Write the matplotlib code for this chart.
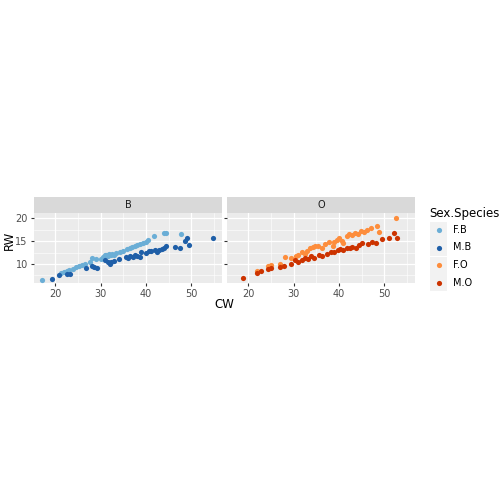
import matplotlib
matplotlib.use("Agg")
import matplotlib.pyplot as plt

FB_cw = [17.1,21.3,22.0,22.6,23.0,24.0,24.6,25.2,25.8,26.5,27.6,28.0,29.0,30.0,30.6,31.0,31.3,31.6,31.9,32.2,32.5,33.0,33.4,34.2,35.0,35.8,36.5,37.0,37.5,38.0,38.6,39.3,40.0,40.5,41.8,44.0,44.5,47.8]
FB_rw = [6.5,7.9,8.2,8.4,8.6,8.9,9.3,9.6,9.8,9.9,10.4,11.3,11.0,11.1,11.6,11.9,12.0,11.8,12.1,11.9,12.2,12.0,12.4,12.6,12.9,13.2,13.5,13.7,13.9,14.1,14.3,14.6,14.9,15.2,16.1,16.9,16.7,16.5]
MB_cw = [19.2,20.8,22.6,23.2,26.8,28.0,28.6,29.2,31.0,31.6,32.0,32.4,33.0,34.0,35.5,36.0,36.6,37.1,37.5,38.0,38.8,39.0,40.0,40.6,41.2,42.0,42.5,43.0,43.6,44.0,44.5,46.5,47.5,48.6,49.0,49.6,54.8]
MB_rw = [6.7,7.6,7.7,7.8,9.0,9.5,9.3,9.0,10.8,10.5,10.0,10.4,10.6,11.0,11.6,11.2,11.8,11.5,12.0,11.7,11.5,12.6,12.5,12.8,12.9,13.0,12.7,13.1,13.3,13.5,13.9,13.7,13.5,15.0,15.8,14.2,15.7]
FO_cw = [21.9,24.3,25.0,26.9,28.1,29.5,30.5,31.0,31.8,32.5,33.0,33.6,34.2,34.8,35.4,36.2,37.0,37.8,38.6,39.0,39.6,40.1,40.6,41.0,41.7,42.3,43.0,43.6,44.2,44.8,45.5,46.2,47.0,48.4,48.8,52.5]
FO_rw = [8.4,9.6,9.8,10.0,11.6,11.3,11.8,12.0,12.6,12.2,12.9,13.4,13.7,14.0,13.9,13.6,14.4,14.9,14.0,14.8,15.3,15.7,15.0,14.6,16.2,16.6,16.3,16.9,16.5,17.2,17.1,17.4,17.8,18.4,17.0,20.2]
MO_cw = [18.8,22.0,22.8,24.4,25.1,26.9,27.8,29.5,30.3,31.0,31.8,32.5,33.2,33.8,34.5,35.5,36.3,37.4,38.2,39.0,39.7,40.3,41.0,41.7,42.4,43.0,43.7,44.4,45.2,46.5,47.3,48.3,49.6,51.0,52.1,52.8]
MO_rw = [6.9,8.1,8.5,8.8,9.0,9.3,9.6,10.0,10.8,10.5,10.8,11.2,11.0,11.7,11.4,12.0,11.7,12.2,12.7,12.6,13.0,13.3,13.0,13.6,13.4,13.8,13.5,14.2,14.5,14.4,14.9,14.6,15.4,15.6,16.7,15.7]

cols = {'F.B':'#6BAED6','M.B':'#1F5FA8','F.O':'#FD8D3C','M.O':'#CC3300'}

fig = plt.figure(figsize=(5.04,5.04), dpi=100)
W,H = 504,504
panels = [('B',[('F.B',FB_cw,FB_rw),('M.B',MB_cw,MB_rw)],34),('O',[('F.O',FO_cw,FO_rw),('M.O',MO_cw,MO_rw)],227)]
pw = 188
for name, groups, x0 in panels:
    ax = fig.add_axes([x0/W, 1-283/H, pw/W, 70/H])
    ax.set_facecolor('#EBEBEB')
    for lab, x, y in groups:
        ax.scatter(x, y, s=14, color=cols[lab], zorder=3, linewidths=0)
    ax.set_xlim(15.3, 56.8); ax.set_ylim(5.8, 21.2)
    ax.set_xticks([20,30,40,50]); ax.set_yticks([10,15,20])
    ax.set_xticks([25,35,45,55], minor=True); ax.set_yticks([7.5,12.5,17.5], minor=True)
    ax.grid(True, which='major', color='white', lw=0.9)
    ax.grid(True, which='minor', color='white', lw=0.4)
    for s in ax.spines.values(): s.set_visible(False)
    ax.tick_params(which='both', length=0, labelsize=7, colors='#4D4D4D', pad=2)
    ax.tick_params(which='major', length=2.5, color='#333333')
    if name == 'O': ax.set_yticklabels([])
    sax = fig.add_axes([x0/W, 1-213/H, pw/W, 16/H])
    sax.set_facecolor('#D9D9D9'); sax.set_xticks([]); sax.set_yticks([])
    for s in sax.spines.values(): s.set_visible(False)
    sax.text(0.5,0.5,name,ha='center',va='center',fontsize=7,color='#1A1A1A',transform=sax.transAxes)

fig.text(224/W, 1-304/H, 'CW', ha='center', va='center', fontsize=8.5)
fig.text(9/W, 1-240/H, 'RW', ha='center', va='center', rotation=90, fontsize=8.5)
fig.text(429/W, 1-214/H, 'Sex.Species', ha='left', va='center', fontsize=8.5)
for i, lab in enumerate(['F.B','M.B','F.O','M.O']):
    yc = 230 + i*17.5
    bax = fig.add_axes([430/W, 1-(yc+8.5)/H, 17/W, 17/H])
    bax.set_facecolor('#F2F2F2'); bax.set_xticks([]); bax.set_yticks([])
    for s in bax.spines.values(): s.set_visible(False)
    bax.scatter([0.5],[0.5], s=14, color=cols[lab], linewidths=0); bax.set_xlim(0,1); bax.set_ylim(0,1)
    fig.text(453/W, 1-yc/H, lab, ha='left', va='center', fontsize=7)

fig.savefig('out.png', dpi=100)
